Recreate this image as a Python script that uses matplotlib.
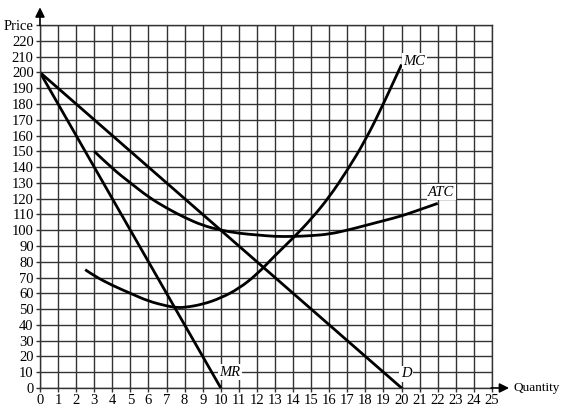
import numpy as np
import matplotlib.pyplot as plt
from matplotlib.path import Path
from matplotlib.patches import PathPatch

# demand and marginal revenue (straight lines)
d_q = [0, 20]
d_p = [200, 0]
mr_q = [0, 10]
mr_p = [200, 0]

# marginal cost curve
mc_q = [2.5, 3, 4, 5, 6, 7, 7.5, 8, 9, 10, 11, 12, 13, 14, 15, 16, 17, 18, 19, 20]
mc_p = [75, 71, 65, 60, 55, 52, 51, 51, 53, 57, 63, 72, 84, 95, 107, 121, 138, 157, 180, 205]

# average total cost curve
atc_q = [3, 4, 5, 6, 7, 8, 9, 10, 11, 12, 13, 14, 15, 16, 17, 18, 19, 20, 21, 22]
atc_p = [150, 139, 130, 121, 114, 108, 103, 100, 98, 97, 96, 96, 96.5, 97.5, 100, 103, 106, 109, 113, 117]

x_ticks = list(range(0, 26))
y_ticks = list(range(0, 240, 10))
y_labels = [str(v) for v in y_ticks[:-1]] + ['Price']

plt.rcParams['font.family'] = ['Liberation Serif', 'DejaVu Serif']


def smooth_curve(ax, xs, ys, **kw):
    # quadratic bezier through midpoints, data points act as control points
    pts = list(zip(xs, ys))
    verts = [pts[0]]
    codes = [Path.MOVETO]
    for i in range(1, len(pts) - 1):
        mid = ((pts[i][0] + pts[i + 1][0]) / 2, (pts[i][1] + pts[i + 1][1]) / 2)
        if i == len(pts) - 2:
            mid = pts[-1]
        verts += [pts[i], mid]
        codes += [Path.CURVE3, Path.CURVE3]
    ax.add_patch(PathPatch(Path(verts, codes), facecolor='none', **kw))


fig = plt.figure(figsize=(5.64, 4.11), dpi=100)
ax = fig.add_axes([0.0709, 0.056, 0.8014, 0.883])
ax.set_xlim(0, 25)
ax.set_ylim(0, 230)

ax.set_xticks(x_ticks)
ax.set_xticklabels([str(v) for v in x_ticks], fontsize=10.5)
ax.set_yticks(y_ticks)
ax.set_yticklabels(y_labels, fontsize=10.5)
ax.tick_params(length=3, width=1, color='#333333', pad=1.5)
ax.grid(True, color='#333333', linewidth=1.0)
ax.set_axisbelow(True)
for s in ax.spines.values():
    s.set_color('#333333')
    s.set_linewidth(1.0)

lw = 2.0
ax.plot(d_q, d_p, color='black', linewidth=lw)
ax.plot(mr_q, mr_p, color='black', linewidth=lw)
smooth_curve(ax, mc_q, mc_p, edgecolor='black', linewidth=lw)
smooth_curve(ax, atc_q, atc_p, edgecolor='black', linewidth=lw)

box = dict(facecolor='white', edgecolor='none', pad=1)
ax.text(20.7, 207, 'MC', style='italic', fontsize=10.5, ha='center', va='center', bbox=box)
ax.text(22.2, 124, 'ATC', style='italic', fontsize=10.5, ha='center', va='center', bbox=box)
ax.text(10.5, 10, 'MR', style='italic', fontsize=10.5, ha='center', va='center', bbox=box)
ax.text(20.25, 9, 'D', style='italic', fontsize=10.5, ha='center', va='center', bbox=box)

# axis arrows
ax.annotate('', xy=(0, 243), xytext=(0, 228), annotation_clip=False,
            arrowprops=dict(arrowstyle='-|>', color='black', lw=1.2, mutation_scale=14))
ax.annotate('', xy=(26.1, 0), xytext=(24.8, 0), annotation_clip=False,
            arrowprops=dict(arrowstyle='-|>', color='black', lw=1.2, mutation_scale=14))
ax.text(26.2, 0, 'Quantity', fontsize=9.5, ha='left', va='center', clip_on=False)

fig.savefig('out.png', dpi=100)
